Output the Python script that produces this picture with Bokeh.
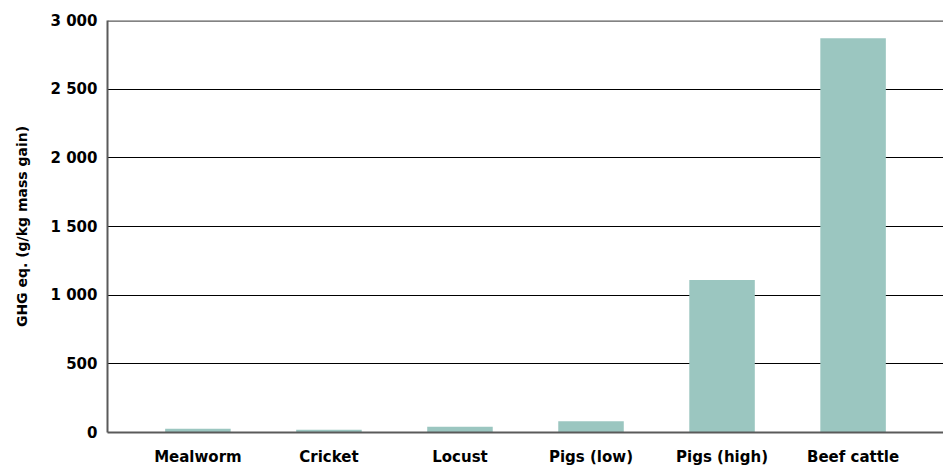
from bokeh.plotting import figure
from bokeh.models import FactorRange, Range1d, FixedTicker, CustomJSTickFormatter, Span, ColumnDataSource
from bokeh.embed import file_html
from bokeh.resources import INLINE

categories = ["Mealworm", "Cricket", "Locust", "Pigs (low)", "Pigs (high)", "Beef cattle"]
ghg_values = [28, 20, 42, 82, 1110, 2870]
y_ticks = [0, 500, 1000, 1500, 2000, 2500, 3000]
y_title = "GHG eq. (g/kg mass gain)"

FONT = "DejaVu Sans"
BAR_COLOR = "#9bc6c0"
AXIS_GRAY = "#5a5a5a"

src = ColumnDataSource(dict(cat=categories, val=ghg_values))

p = figure(
    x_range=FactorRange(*categories, range_padding=0.19, range_padding_units="absolute"),
    y_range=Range1d(0, 3000),
    width=943, height=468,
    output_backend="svg", toolbar_location=None,
    min_border_left=107, min_border_right=0, min_border_top=20, min_border_bottom=36,
)
p.outline_line_color = None
p.background_fill_color = "white"

p.vbar(x="cat", top="val", width=0.5, source=src, fill_color=BAR_COLOR, line_color=None)

# grid
p.xgrid.grid_line_color = None
p.ygrid.ticker = FixedTicker(ticks=y_ticks)
p.ygrid.grid_line_color = "black"
p.ygrid.grid_line_width = 1.2

top_line = Span(location=3000, dimension="width", line_color=AXIS_GRAY, line_width=2.5)
p.add_layout(top_line)

# y axis
p.yaxis.ticker = FixedTicker(ticks=y_ticks)
p.yaxis.formatter = CustomJSTickFormatter(code="""
    return tick.toFixed(0).replace(/\\B(?=(\\d{3})+(?!\\d))/g, "\\u00a0");
""")
p.yaxis.axis_label = y_title
p.yaxis.axis_label_text_font = FONT
p.yaxis.axis_label_text_font_style = "bold"
p.yaxis.axis_label_text_font_size = "14px"
p.yaxis.axis_label_text_color = "black"
p.yaxis.axis_label_standoff = 18
p.yaxis.major_label_text_font = FONT
p.yaxis.major_label_text_font_style = "bold"
p.yaxis.major_label_text_font_size = "15px"
p.yaxis.major_label_text_color = "black"
p.yaxis.major_label_standoff = 10
p.yaxis.major_tick_line_color = None
p.yaxis.major_tick_out = 0
p.yaxis.major_tick_in = 0
p.yaxis.minor_tick_line_color = None
p.yaxis.minor_tick_out = 0
p.yaxis.axis_line_color = AXIS_GRAY
p.yaxis.axis_line_width = 2

# x axis
p.xaxis.major_label_text_font = FONT
p.xaxis.major_label_text_font_style = "bold"
p.xaxis.major_label_text_font_size = "15px"
p.xaxis.major_label_text_color = "black"
p.xaxis.major_label_standoff = 15
p.xaxis.major_tick_line_color = None
p.xaxis.major_tick_out = 0
p.xaxis.major_tick_in = 0
p.xaxis.minor_tick_line_color = None
p.xaxis.minor_tick_out = 0
p.xaxis.axis_line_color = AXIS_GRAY
p.xaxis.axis_line_width = 2

open("out.html", "w").write(file_html(p, INLINE))
